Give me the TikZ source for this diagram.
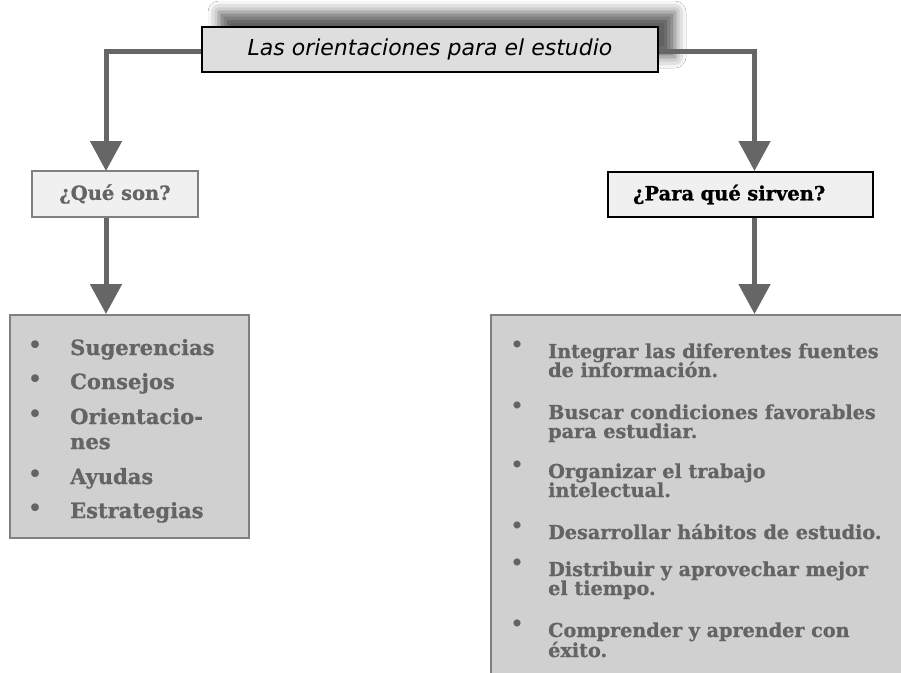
\documentclass[tikz,border=0pt]{standalone}
\usepackage{fontspec}
\usetikzlibrary{arrows.meta,shadows.blur}
\newfontfamily\lstfont{DejaVu Serif}[BoldFont={DejaVu Serif Bold},BoldFeatures={FakeBold=0.8}]
\newfontfamily\ttlfont{DejaVu Sans}
\definecolor{lg}{RGB}{102,102,102}
\definecolor{txtg}{RGB}{100,100,100}
\definecolor{bordg}{RGB}{128,128,128}
\definecolor{topfill}{RGB}{222,222,222}
\definecolor{lightfill}{RGB}{240,240,240}
\definecolor{listfill}{RGB}{208,208,208}
\begin{document}
\begin{tikzpicture}[x=1pt,y=-1pt,
  conn/.style={draw=lg,line width=5pt,-{Triangle[length=30pt,width=31pt]}},
  titlebox/.style={draw=black,line width=1.5pt,fill=topfill,minimum width=456pt,minimum height=45pt,inner sep=0pt,
     font=\ttlfont\itshape\fontsize{22}{26}\selectfont},
  qbox/.style={draw=bordg,line width=1.5pt,fill=lightfill,minimum width=166pt,minimum height=46pt,inner sep=0pt,
     text=txtg,font=\lstfont\bfseries\fontsize{19.5}{23}\selectfont},
  pbox/.style={draw=black,line width=1.5pt,fill=lightfill,minimum width=265pt,minimum height=45pt,inner xsep=25pt,inner ysep=0pt,
     text width=215pt,align=left,text=black,font=\lstfont\bfseries\fontsize{19.5}{23}\selectfont},
  listbox/.style={draw=bordg,line width=1.5pt,fill=listfill},
  litem/.style={anchor=base west,inner sep=0pt,text=txtg,font=\lstfont\bfseries\fontsize{21}{25}\selectfont},
  lbul/.style={anchor=base,inner sep=0pt,text=txtg,font=\lstfont\bfseries\fontsize{21}{25}\selectfont},
  ritem/.style={anchor=base west,inner sep=0pt,text=txtg,font=\lstfont\bfseries\fontsize{19.2}{23}\selectfont},
  rbul/.style={anchor=base,inner sep=0pt,text=txtg,font=\lstfont\bfseries\fontsize{19}{23}\selectfont}]
\useasboundingbox (0,0) rectangle (901,672);
\clip (0,0) rectangle (901,672);
\fill[white] (0,0) rectangle (901,672);

% title
\node[titlebox,blur shadow={shadow xshift=17pt,shadow yshift=15pt,shadow blur radius=11pt,shadow opacity=62}] (top) at (430,49.5) {Las orientaciones para el estudio};

% second level boxes
\node[qbox] (qs) at (115,194) {¿Qué son?};
\node[pbox] (ps) at (740.5,194.5) {¿Para qué sirven?};

% list boxes
\node[listbox,anchor=north west,minimum width=239pt,minimum height=223pt,inner sep=0pt] (lb) at (9,314) {};
\node[listbox,anchor=north west,minimum width=430pt,minimum height=380pt,inner sep=0pt] (rb) at (490,314) {};

% connector coordinates
\coordinate (lx) at (106,171);
\coordinate (rx) at (754.5,171);
\coordinate (lx2) at (106,314);
\coordinate (rx2) at (754.5,314);

\draw[conn] (top.west |- 0,51) -| (lx);
\draw[conn] (top.east |- 0,51) -| (rx);
\draw[conn] (qs.south -| lx) -- (lx2);
\draw[conn] (ps.south -| rx) -- (rx2);

% left list
\node[lbul] (lb1) at (35,352) {•};
\node[litem] (lt1) at (70,355) {Sugerencias};
\node[lbul] (lb2) at (35,386) {•};
\node[litem] (lt2) at (70,389) {Consejos};
\node[lbul] (lb3) at (35,421) {•};
\node[litem] (lt3) at (70,424) {Orientacio-};
\node[litem] (lt3b) at (70,449) {nes};
\node[lbul] (lb4) at (35,481) {•};
\node[litem] (lt4) at (70,484) {Ayudas};
\node[lbul] (lb5) at (35,515) {•};
\node[litem] (lt5) at (70,518) {Estrategias};

% right list
\node[rbul] (rb1) at (517,351) {•};
\node[ritem] (rt1) at (548,358) {Integrar las diferentes fuentes};
\node[ritem] (rt1b) at (548,377) {de información.};
\node[rbul] (rb2) at (517,412) {•};
\node[ritem] (rt2) at (548,419) {Buscar condiciones favorables};
\node[ritem] (rt2b) at (548,438) {para estudiar.};
\node[rbul] (rb3) at (517,471) {•};
\node[ritem] (rt3) at (548,478) {Organizar el trabajo};
\node[ritem] (rt3b) at (548,497) {intelectual.};
\node[rbul] (rb4) at (517,532) {•};
\node[ritem] (rt4) at (548,539) {Desarrollar hábitos de estudio.};
\node[rbul] (rb5) at (517,569) {•};
\node[ritem] (rt5) at (548,576) {Distribuir y aprovechar mejor};
\node[ritem] (rt5b) at (548,595) {el tiempo.};
\node[rbul] (rb6) at (517,630) {•};
\node[ritem] (rt6) at (548,637) {Comprender y aprender con};
\node[ritem] (rt6b) at (548,657) {éxito.};
\end{tikzpicture}
\end{document}
